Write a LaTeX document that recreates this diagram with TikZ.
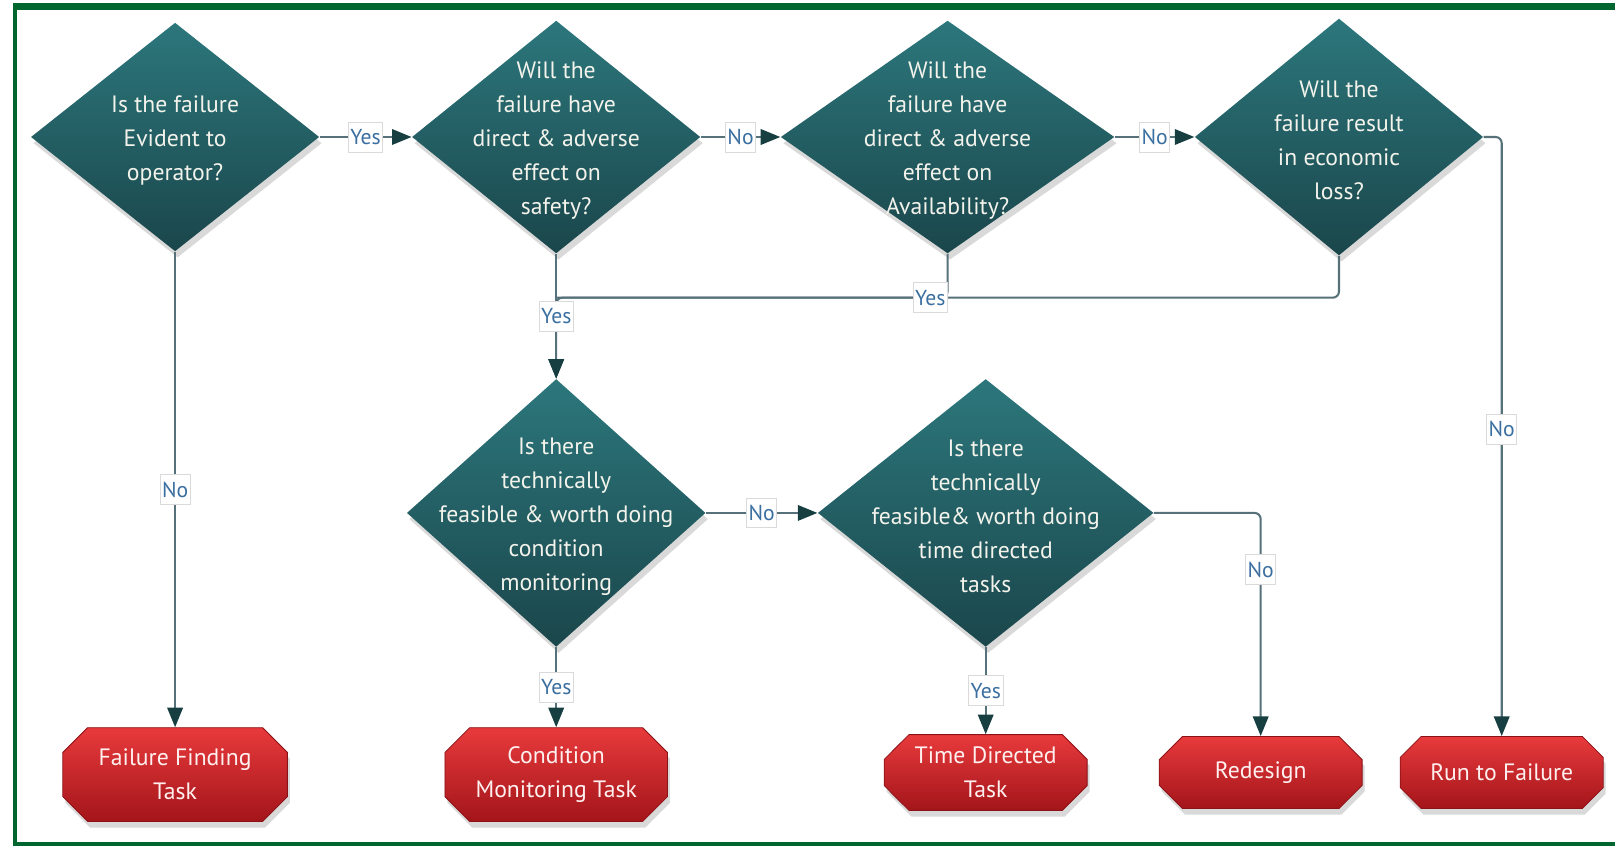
\documentclass[tikz,border=0pt]{standalone}
\usepackage{fontspec}
\setmainfont{PT Sans}
\usetikzlibrary{shapes.geometric,shapes.misc,arrows.meta,shadows}

\definecolor{tealtop}{HTML}{2C777C}
\definecolor{tealbot}{HTML}{1A464B}
\definecolor{redtop}{HTML}{E83A3C}
\definecolor{redbot}{HTML}{A3151A}
\definecolor{framegreen}{HTML}{00652F}
\definecolor{wire}{HTML}{56717A}
\definecolor{tipcol}{HTML}{173F42}
\definecolor{lbltext}{HTML}{3A6FA0}
\definecolor{lblline}{HTML}{DADADA}
\definecolor{qtextcol}{HTML}{F3F3EC}
\definecolor{tasktextcol}{HTML}{FFF0F0}

\begin{document}
\begin{tikzpicture}[x=0.5pt,y=-0.5pt,
  decision/.style={diamond, inner sep=0pt, draw=none,
    top color=tealtop, bottom color=tealbot,
    drop shadow={shadow xshift=1.2pt, shadow yshift=-3pt, opacity=0.3}},
  qtext/.style={align=center, text=qtextcol, inner sep=0pt, yshift=-1.8pt,
    font=\fontsize{11.5}{16.5}\selectfont},
  task/.style={chamfered rectangle, chamfered rectangle xsep=6pt,
    chamfered rectangle ysep=6pt, inner sep=0pt,
    top color=redtop, bottom color=redbot, draw=redbot!85!black, line width=0.4pt,
    align=center, text=tasktextcol, font=\fontsize{11.5}{16.5}\selectfont,
    drop shadow={shadow xshift=1.2pt, shadow yshift=-3pt, opacity=0.3}},
  flow/.style={draw=wire, line width=1pt, rounded corners=3pt,
    -{Triangle[length=9.5pt,width=7.5pt,color=tipcol]}},
  link/.style={draw=wire, line width=1pt, rounded corners=3pt},
  lbl/.style={sharp corners, fill=white, draw=lblline, line width=0.4pt, text=lbltext,
    font=\fontsize{10.5}{12}\selectfont, inner xsep=1pt, inner ysep=0pt,
    minimum height=14.5pt}
]
\useasboundingbox (0,0) rectangle (1568,821);

% page frame
\draw[framegreen, line width=3.3pt] (13,6.5) -- (1568,6.5);
\draw[framegreen, line width=2pt] (14.5,3) -- (14.5,821);
\draw[framegreen, line width=1.6pt] (13,819.5) -- (1568,819.5);

% decisions
\node[decision, minimum width=140pt, minimum height=111pt] (d1) at (170,133) {};
\node[qtext] at (d1) {Is the failure\\Evident to\\operator?};
\node[decision, minimum width=140pt, minimum height=113pt] (d2) at (540,133) {};
\node[qtext] at (d2) {Will the\\failure have\\direct \& adverse\\effect on\\safety?};
\node[decision, minimum width=162pt, minimum height=113pt] (d3) at (920,133) {};
\node[qtext] at (d3) {Will the\\failure have\\direct \& adverse\\effect on\\Availability?};
\node[decision, minimum width=140pt, minimum height=115pt] (d4) at (1300,133) {};
\node[qtext] at (d4) {Will the\\failure result\\in economic\\loss?};
\node[decision, minimum width=145pt, minimum height=130pt] (d5) at (540,498) {};
\node[qtext] at (d5) {Is there\\technically\\feasible \& worth doing\\condition\\monitoring};
\node[decision, minimum width=163pt, minimum height=130pt] (d6) at (957,498) {};
\node[qtext] at (d6) {Is there\\technically\\feasible\& worth doing\\time directed\\tasks};

% tasks
\node[task, minimum width=109pt, minimum height=45.5pt] (o1) at (170,752) {Failure Finding\\Task};
\node[task, minimum width=108pt, minimum height=45.5pt] (o2) at (540,752) {Condition\\Monitoring Task};
\node[task, minimum width=98.5pt, minimum height=35pt] (o3) at (957,750) {Time Directed\\Task};
\node[task, minimum width=98.5pt, minimum height=35pt] (o4) at (1224,750) {Redesign};
\node[task, minimum width=98.5pt, minimum height=35pt] (o5) at (1458,750) {Run to Failure};

% connectors
\coordinate (j) at (540,289);
\draw[flow] (d4.south) |- (j) -- (d5.north);
\draw[flow] (d2.south) -- node[lbl]{Yes} (d5.north);
\draw[link] (d3.south) |- node[lbl,pos=0.522]{Yes} (j);
\draw[flow] (d1.east) -- node[lbl]{Yes} (d2.west);
\draw[flow] (d2.east) -- node[lbl]{No} (d3.west);
\draw[flow] (d3.east) -- node[lbl]{No} (d4.west);
\draw[flow] (d4.east) -| node[lbl,pos=0.744]{No} (o5.north);
\draw[flow] (d1.south) -- node[lbl]{No} (o1.north);
\draw[flow] (d5.east) -- node[lbl]{No} (d6.west);
\draw[flow] (d5.south) -- node[lbl]{Yes} (o2.north);
\draw[flow] (d6.south) -- node[lbl]{Yes} (o3.north);
\draw[flow] (d6.east) -| node[lbl,pos=0.627]{No} (o4.north);
\end{tikzpicture}
\end{document}
